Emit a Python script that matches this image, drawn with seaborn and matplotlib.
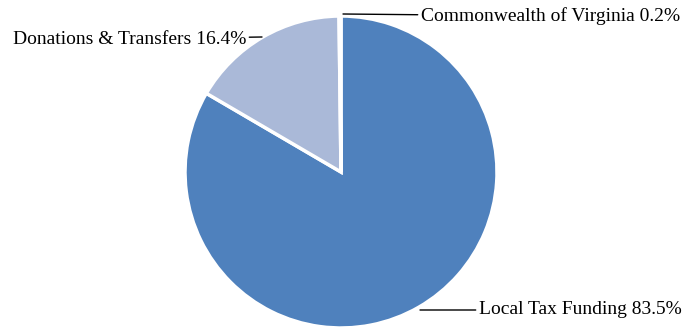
import numpy as np
import pandas as pd
import seaborn as sns
import matplotlib.pyplot as plt

# data
sources = ['Local Tax Funding', 'Donations & Transfers', 'Commonwealth of Virginia']
shares = [83.5, 16.4, 0.2]
colors = ['#4F81BD', '#AAB9D8', '#F4F4F4']

sns.set_style('white')
plt.rcParams['font.family'] = ['Liberation Serif', 'DejaVu Serif']

H = 328
fig = plt.figure(figsize=(6.82, 3.28), dpi=100)
ax = fig.add_axes([0, 0, 1, 1])

cx, cy, r = 341, H - 172, 156
wedges, _ = ax.pie(shares, colors=colors, startangle=90, counterclock=False,
                   center=(cx, cy), radius=r, frame=True,
                   wedgeprops=dict(edgecolor='white', linewidth=2.5))
ax.set_xlim(0, 682)
ax.set_ylim(0, H)
ax.set_aspect('equal')
ax.axis('off')

# labels with leader lines (text x/y, line end x/y in pixels from top)
label_pos = [(479, 310, 420, 310, 'left'),
             (246, 39, 262, 37, 'right'),
             (421, 16, 343, 14, 'left')]
for name, val, (tx, ty, lx, ly, ha) in zip(sources, shares, label_pos):
    ax.annotate(f'{name} {val}%', xy=(lx, H - ly), xytext=(tx, H - ty),
                ha=ha, va='center', fontsize=14, color='black',
                arrowprops=dict(arrowstyle='-', color='black', lw=1,
                                shrinkA=0, shrinkB=0))

fig.savefig('out.png', dpi=100)
